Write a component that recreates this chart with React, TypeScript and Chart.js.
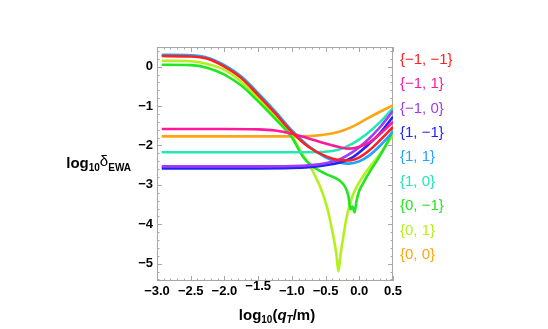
import React, { useEffect, useRef } from "react";
import { Chart, registerables } from "chart.js";

Chart.register(...registerables);

// ---------- data ----------
const seriesLabels = ["{−1, −1}", "{−1, 1}", "{−1, 0}", "{1, −1}", "{1, 1}", "{1, 0}", "{0, −1}", "{0, 1}", "{0, 0}"];
const seriesColors = ["#ff2020", "#ff1a9c", "#a23cf2", "#2222ff", "#1ea5ff", "#22e8b4", "#22e622", "#b4f01e", "#ffa514"];

const xRed = [-2.93, -2.5, -2.25, -2.0, -1.75, -1.5, -1.25, -1.0, -0.75, -0.5, -0.3, -0.15, 0.0, 0.15, 0.3, 0.5];
const yRed = [0.27, 0.26, 0.2, 0.0, -0.29, -0.72, -1.18, -1.66, -2.04, -2.27, -2.37, -2.38, -2.3, -2.12, -1.88, -1.53];

const xMagenta = [-2.93, -2.0, -1.5, -1.25, -1.0, -0.75, -0.5, -0.3, -0.15, 0.0, 0.15, 0.3, 0.5];
const yMagenta = [-1.58, -1.58, -1.59, -1.62, -1.7, -1.82, -1.95, -2.04, -2.08, -2.03, -1.92, -1.72, -1.4];

const xPurple = [-2.93, -1.5, -1.0, -0.75, -0.5, -0.3, -0.1, 0.1, 0.3, 0.5];
const yPurple = [-2.53, -2.53, -2.52, -2.5, -2.45, -2.36, -2.17, -1.9, -1.55, -1.12];

const xBlue = [-2.93, -1.5, -1.0, -0.75, -0.5, -0.3, -0.1, 0.1, 0.3, 0.5];
const yBlue = [-2.58, -2.58, -2.57, -2.55, -2.5, -2.44, -2.3, -2.03, -1.7, -1.27];

const xLightBlue = [-2.93, -2.5, -2.25, -2.0, -1.75, -1.5, -1.25, -1.0, -0.75, -0.5, -0.3, -0.15, 0.0, 0.15, 0.3, 0.5];
const yLightBlue = [0.3, 0.29, 0.23, 0.04, -0.25, -0.67, -1.13, -1.62, -2.02, -2.3, -2.43, -2.46, -2.4, -2.25, -2.02, -1.65];

const xAqua = [-2.93, -1.5, -0.75, -0.5, -0.3, -0.1, 0.1, 0.3, 0.5];
const yAqua = [-2.17, -2.17, -2.17, -2.16, -2.1, -1.95, -1.72, -1.42, -1.05];

const xGreen = [-2.93, -2.5, -2.25, -2.0, -1.75, -1.5, -1.25, -1.0, -0.83, -0.7, -0.5, -0.3, -0.2, -0.16, -0.13, -0.1, -0.07, -0.04, 0.0, 0.05, 0.15, 0.26, 0.4, 0.5];
const yGreen = [0.05, 0.04, -0.03, -0.2, -0.48, -0.88, -1.32, -1.8, -2.3, -2.52, -2.72, -2.88, -3.08, -3.3, -3.62, -3.55, -3.7, -3.4, -3.15, -2.98, -2.68, -2.39, -1.98, -1.62];

const xYellowGreen = [-2.93, -2.5, -2.25, -2.0, -1.75, -1.5, -1.25, -1.0, -0.88, -0.7, -0.58, -0.48, -0.38, -0.34, -0.31, -0.28, -0.24, -0.19, -0.09, 0.11, 0.31, 0.5];
const yYellowGreen = [0.15, 0.14, 0.07, -0.08, -0.38, -0.8, -1.27, -1.74, -2.12, -2.62, -3.05, -3.55, -4.35, -4.75, -5.2, -4.8, -4.35, -3.84, -3.24, -2.65, -2.21, -1.72];

const xOrange = [-2.93, -1.5, -1.0, -0.75, -0.5, -0.3, -0.1, 0.1, 0.3, 0.5];
const yOrange = [-1.77, -1.77, -1.77, -1.76, -1.72, -1.65, -1.52, -1.33, -1.15, -0.98];

const seriesX = [xRed, xMagenta, xPurple, xBlue, xLightBlue, xAqua, xGreen, xYellowGreen, xOrange];
const seriesY = [yRed, yMagenta, yPurple, yBlue, yLightBlue, yAqua, yGreen, yYellowGreen, yOrange];

const xTickValues = [-3.0, -2.5, -2.0, -1.5, -1.0, -0.5, 0.0, 0.5];
const yTickValues = [-5, -4, -3, -2, -1, 0];
const raisedXTick = -1.5;
const xRange = [-3.0, 0.5];
const yRange = [-5.44, 0.5];

const TICK_FONT = { family: "'Liberation Sans', Arial, sans-serif", size: 13, weight: "bold" as const };
const X_TICK_PAD = 3;

const fmt = (v: number, d: number) => {
  const s = Math.abs(v).toFixed(d);
  return v < -1e-9 ? "−" + s : s;
};

const framePlugin = {
  id: "mmaFrame",
  beforeDatasetsDraw(chart: any) {
    const { ctx, chartArea, scales } = chart;
    const { left, right, top, bottom } = chartArea;
    const xs = scales.x;
    const ys = scales.y;
    ctx.save();
    ctx.strokeStyle = "#a6a6a6";
    ctx.lineWidth = 1;
    ctx.strokeRect(left + 0.5, top + 0.5, right - left - 1, bottom - top - 1);
    ctx.beginPath();
    for (let i = 0; i <= 35; i++) {
      const v = xRange[0] + i * 0.1;
      const px = Math.round(xs.getPixelForValue(v)) + 0.5;
      const len = i % 5 === 0 ? 5 : 2.5;
      ctx.moveTo(px, bottom);
      ctx.lineTo(px, bottom - len);
      ctx.moveTo(px, top);
      ctx.lineTo(px, top + len);
    }
    for (let i = 0; i <= 30; i++) {
      const v = -5.4 + i * 0.2;
      if (v < yRange[0] || v > yRange[1]) continue;
      const py = Math.round(ys.getPixelForValue(v)) + 0.5;
      const isMajor = Math.abs(v - Math.round(v)) < 1e-6;
      const len = isMajor ? 5 : 2.5;
      ctx.moveTo(left, py);
      ctx.lineTo(left + len, py);
      ctx.moveTo(right, py);
      ctx.lineTo(right - len, py);
    }
    ctx.stroke();
    ctx.restore();
  },
  afterDraw(chart: any) {
    // the reference draws the -1.5 tick label a few pixels higher than the others
    const { ctx, chartArea, scales } = chart;
    const px = scales.x.getPixelForValue(raisedXTick);
    const py = chartArea.bottom + X_TICK_PAD + (TICK_FONT.size * 1.2) / 2 - 5;
    ctx.save();
    ctx.font = `bold ${TICK_FONT.size}px ${TICK_FONT.family}`;
    ctx.fillStyle = "#000";
    ctx.textAlign = "center";
    ctx.textBaseline = "middle";
    ctx.fillText(fmt(raisedXTick, 1), px, py);
    ctx.restore();
  },
};

function ChartCanvas() {
  const ref = useRef<HTMLCanvasElement | null>(null);
  useEffect(() => {
    if (!ref.current) return;
    const datasets = seriesLabels.map((label, i) => ({
      label,
      data: seriesX[i].map((x, j) => ({ x, y: seriesY[i][j] })),
      borderColor: seriesColors[i],
      backgroundColor: seriesColors[i],
      borderWidth: 2.6,
      pointRadius: 0,
      showLine: true,
      fill: false,
      cubicInterpolationMode: "monotone" as const,
    }));
    const chart = new Chart(ref.current, {
      type: "scatter",
      data: { datasets },
      options: {
        animation: false,
        responsive: false,
        devicePixelRatio: 1,
        layout: { padding: { left: 0, top: 47, right: 155, bottom: 0 } },
        plugins: { legend: { display: false }, tooltip: { enabled: false } },
        scales: {
          x: {
            type: "linear",
            min: xRange[0],
            max: xRange[1],
            afterBuildTicks: (s: any) => {
              s.ticks = xTickValues.map((v) => ({ value: v }));
            },
            afterFit: (s: any) => {
              s.height = 48;
            },
            grid: { display: false, drawTicks: false },
            border: { display: false },
            ticks: {
              padding: X_TICK_PAD,
              color: (c: any) => (c.tick && Math.abs(c.tick.value - raisedXTick) < 1e-9 ? "rgba(0,0,0,0)" : "#000"),
              font: TICK_FONT,
              maxRotation: 0,
              autoSkip: false,
              callback: (v: any) => fmt(Number(v), 1),
            },
          },
          y: {
            type: "linear",
            min: yRange[0],
            max: yRange[1],
            afterBuildTicks: (s: any) => {
              s.ticks = yTickValues.map((v) => ({ value: v }));
            },
            afterFit: (s: any) => {
              s.width = 157;
            },
            grid: { display: false, drawTicks: false },
            border: { display: false },
            ticks: {
              padding: 4,
              color: "#000",
              font: TICK_FONT,
              autoSkip: false,
              callback: (v: any) => fmt(Number(v), 0),
            },
          },
        },
      },
      plugins: [framePlugin],
    });
    return () => chart.destroy();
  }, []);
  return <canvas ref={ref} width={548} height={329} style={{ display: "block", width: 548, height: 329 }} />;
}

export default function App() {
  const font = "'Liberation Sans', Arial, sans-serif";
  return (
    <div style={{ position: "absolute", left: 0, top: 0, width: 548, height: 329, background: "#fff", overflow: "hidden" }}>
      <ChartCanvas />
      <div
        style={{
          position: "absolute",
          right: 548 - 131,
          top: 164,
          transform: "translateY(-50%)",
          fontFamily: font,
          fontWeight: "bold",
          fontSize: 15,
          whiteSpace: "nowrap",
          lineHeight: 1,
        }}
      >
        log<sub style={{ fontSize: 10, verticalAlign: -3 }}>10</sub>
        <span style={{ fontWeight: "normal", position: "relative", top: -2 }}>δ</span>
        <sub style={{ fontSize: 10, verticalAlign: -3 }}>EWA</sub>
      </div>
      <div
        style={{
          position: "absolute",
          left: 277,
          top: 316,
          transform: "translate(-50%, -50%)",
          fontFamily: font,
          fontWeight: "bold",
          fontSize: 15,
          whiteSpace: "nowrap",
          lineHeight: 1,
        }}
      >
        log<sub style={{ fontSize: 10, verticalAlign: -3 }}>10</sub>(<i>q</i>
        <sub style={{ fontSize: 10, verticalAlign: -3 }}>
          <i>T</i>
        </sub>
        /m)
      </div>
      {seriesLabels.map((lab, i) => (
        <div
          key={lab}
          style={{
            position: "absolute",
            left: 400,
            top: 57.7 + i * 24.4,
            transform: "translateY(-50%)",
            fontFamily: font,
            fontSize: 15,
            color: seriesColors[i],
            whiteSpace: "nowrap",
            lineHeight: 1,
          }}
        >
          {lab}
        </div>
      ))}
    </div>
  );
}
